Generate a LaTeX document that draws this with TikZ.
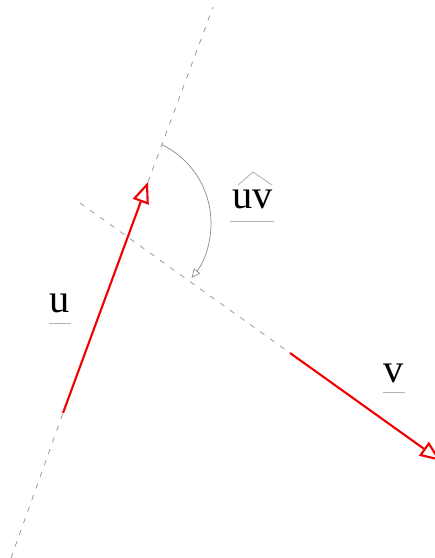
\documentclass[tikz,border=0pt]{standalone}
\usepackage{fontspec}
\setmainfont{Liberation Serif}
\usetikzlibrary{arrows.meta, calc}
\definecolor{vred}{HTML}{F00000}
\definecolor{vgray}{HTML}{9A9A9A}
\definecolor{lgray}{HTML}{B4B4B4}

\begin{document}
\begin{tikzpicture}[x=0.02cm, y=0.02cm,
  axisline/.style={vgray, line width=0.45pt, dash pattern=on 3pt off 4pt},
  vecarrow/.style={vred, line width=1.2pt,
    -{Triangle[open, length=12pt, width=9.5pt, line width=1.2pt]}},
  anglearc/.style={vgray!90!black, line width=0.4pt,
    -{Triangle[open, length=5pt, width=4.5pt]}},
  vlabel/.style={font=\fontsize{23}{28}\selectfont, inner sep=0pt, outer sep=0pt, anchor=base west},
  uline/.style={lgray, line width=0.5pt}]
\useasboundingbox (0,0) rectangle (434,558);
% axes of the two vectors
\coordinate (utop) at (213,551);
\coordinate (ubot) at (11,0);
\coordinate (utail) at (63,145);
\coordinate (uhead) at (148,376);
\coordinate (vstart) at (80,355);
\coordinate (vtail) at (290,205);
\coordinate (vhead) at (441,97);
\coordinate (arcc) at (124,335);
\coordinate (arcstart) at ($(arcc)+(64:87)$);
\draw[axisline] (ubot) -- (utail);
\draw[axisline] (uhead) -- (utop);
\draw[axisline] (vstart) -- (vtail);
% vectors
\draw[vecarrow] (utail) -- (uhead);
\draw[vecarrow] (vtail) -- (vhead);
% angle between them
\draw[anglearc] (arcstart) arc[start angle=64, end angle=-39, radius=87];
% labels
\node[vlabel] (ulab) at (50,245) {u};
\node[vlabel] (uvlab) at (232,349) {uv};
\node[vlabel] (vlab) at (383,175) {v};
\draw[uline] ([shift={(-1,-10)}]ulab.base west) -- ([shift={(1,-10)}]ulab.base east);
\draw[uline] ([shift={(-2,-12)}]uvlab.base west) -- ([shift={(2,-12)}]uvlab.base east);
\draw[uline] ([shift={(0,-9)}]vlab.base west) -- ([shift={(2,-9)}]vlab.base east);
\draw[uline] ([shift={(6,24)}]uvlab.base west) -- ([shift={(21,37)}]uvlab.base west)
  -- ([shift={(40,24)}]uvlab.base west);
\end{tikzpicture}
\end{document}
